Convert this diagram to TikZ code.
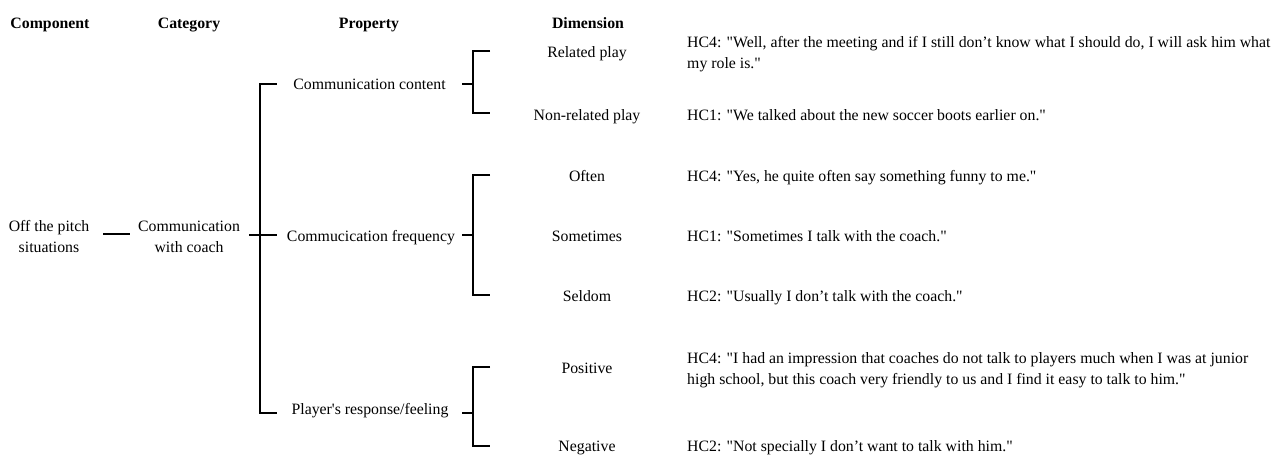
\documentclass[tikz,border=0pt]{standalone}
\usepackage{fontspec}
\defaultfontfeatures[\rmfamily]{}
\setmainfont{Liberation Serif}
\begin{document}
\begin{tikzpicture}[x=1pt,y=-1pt,
  txt/.style={inner sep=0pt, font=\fontsize{15.8}{21}\selectfont},
  hdr/.style={txt, anchor=base, font=\fontsize{15.8}{21}\selectfont\bfseries},
  lbl/.style={txt, anchor=base},
  multi/.style={txt, align=center, anchor=base},
  quote/.style={txt, anchor=base west, align=left},
  conn/.style={line width=2.7pt}]
\path[use as bounding box] (0,0) rectangle (1277,455);
% headers
\node[hdr] (hcomp) at (50,28) {Component};
\node[hdr] (hcat) at (189,28) {Category};
\node[hdr] (hprop) at (369,28) {Property};
\node[hdr] (hdim) at (588,28) {Dimension};
% component / category (base = last line)
\node[multi] (comp) at (49,252) {Off the pitch\\situations};
\node[multi] (cat) at (189,252) {Communication\\with coach};
% properties
\node[lbl] (p1) at (369.5,89.5) {Communication content};
\node[lbl] (p2) at (371,241.5) {Commucication frequency};
\node[lbl] (p3) at (370,414) {Player's response/feeling};
% dimensions
\node[lbl] (d1) at (587,57.5) {Related play};
\node[lbl] (d2) at (587,120) {Non-related play};
\node[lbl] (d3) at (587,181.5) {Often};
\node[lbl] (d4) at (587,241.5) {Sometimes};
\node[lbl] (d5) at (587,301.5) {Seldom};
\node[lbl] (d6) at (587,373.5) {Positive};
\node[lbl] (d7) at (587,451) {Negative};
% quotes (base = last line)
\node[quote] (q1) at (687,68) {HC4: "Well, after the meeting and if I still don’t know what I should do, I will ask him what\\my role is."};
\node[quote] (q2) at (687,120) {HC1: "We talked about the new soccer boots earlier on."};
\node[quote] (q3) at (687,181.5) {HC4: "Yes, he quite often say something funny to me."};
\node[quote] (q4) at (687,241.5) {HC1: "Sometimes I talk with the coach."};
\node[quote] (q5) at (687,301.5) {HC2: "Usually I don’t talk with the coach."};
\node[quote] (q6) at (687,384) {HC4: "I had an impression that coaches do not talk to players much when I was at junior\\high school, but this coach very friendly to us and I find it easy to talk to him."};
\node[quote] (q7) at (687,451) {HC2: "Not specially I don’t want to talk with him."};
% connector component -> category
\coordinate (l1a) at (103,234);
\coordinate (l1b) at (130,234);
\draw[conn] (l1a) -- (l1b);
% category bracket
\coordinate (cs) at (249,235);
\coordinate (ce) at (276.5,235);
\coordinate (ct) at (276.5,84);
\coordinate (cb) at (276.5,413);
\coordinate (cv) at (260,0);
\draw[conn] (ct) -- (ct -| cv) -- (cb -| cv) -- (cb);
\draw[conn] (cs) -- (ce);
% property brackets
\coordinate (bv) at (473,0);
\coordinate (bs) at (462,0);
\coordinate (be) at (490,0);
\foreach \s/\t/\b in {84/51/113, 235/175/295, 413/367/446}{
  \draw[conn] (bs |- 0,\s) -- (bv |- 0,\s);
  \draw[conn] (be |- 0,\t) -- (bv |- 0,\t) -- (bv |- 0,\b) -- (be |- 0,\b);
}
\end{tikzpicture}
\end{document}
